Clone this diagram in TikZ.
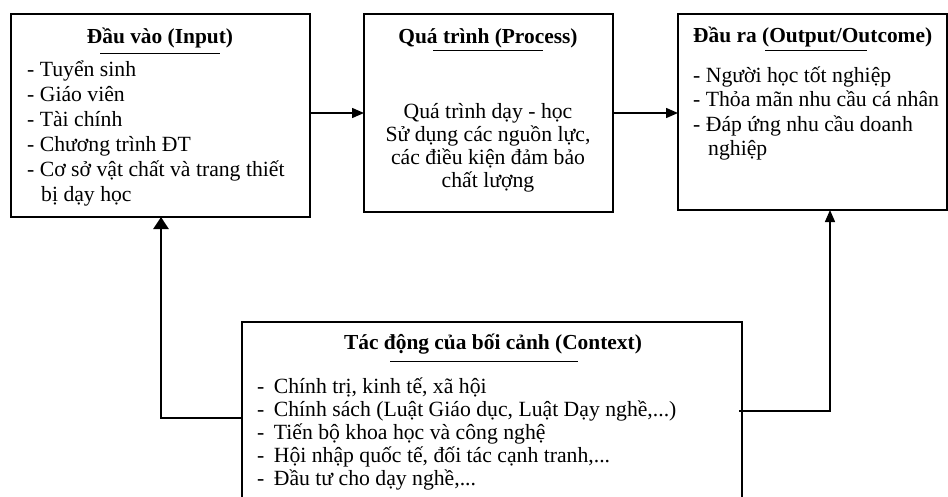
\documentclass[tikz,border=0pt]{standalone}
\usepackage{fontspec}
\setmainfont{Liberation Serif}
\usetikzlibrary{arrows.meta,calc}
\begin{document}
\begin{tikzpicture}[x=1pt,y=-1pt,
 box/.style={draw,line width=1.5pt,inner sep=0,outer sep=0,anchor=north west},
 ttl/.style={font=\fontsize{21.4}{25}\selectfont\bfseries,inner sep=0,anchor=base},
 ttlw/.style={font=\fontsize{21.4}{25}\selectfont\bfseries,inner sep=0,anchor=base west},
 itm/.style={font=\fontsize{21.7}{25}\selectfont,inner sep=0,anchor=base west},
 ctr/.style={font=\fontsize{21.7}{25}\selectfont,inner sep=0,anchor=base},
 arr/.style={line width=1.5pt,-{Triangle[length=12pt,width=10pt]}},
 thickarr/.style={line width=2.8pt,-{Triangle[length=12pt,width=15pt]}},
 uline/.style={line width=1pt}]
\useasboundingbox (0,0) rectangle (948,496);
% boxes
\node[box,line width=2pt,minimum width=299,minimum height=203] (in) at (11,14) {};
\node[box,minimum width=249,minimum height=198] (proc) at (364,14) {};
\node[box,minimum width=269,minimum height=196] (out) at (678,14) {};
\node[box,line width=1.3pt,minimum width=500,minimum height=200] (ctx) at (242,322) {};
% input
\node[ttl] (inT) at (160,43) {Đầu vào (Input)};
\draw[uline] (100,53) -- (220,53);
\node[itm] (in1) at (27,76) {- Tuyển sinh};
\node[itm] (in2) at (27,101) {- Giáo viên};
\node[itm] (in3) at (27,126) {- Tài chính};
\node[itm] (in4) at (27,151) {- Chương trình ĐT};
\node[itm] (in5) at (27,176) {- Cơ sở vật chất và trang thiết};
\node[itm] (in6) at (41,201) {bị dạy học};
% process
\node[ttl] (prT) at (488,43) {Quá trình (Process)};
\draw[uline] (433,50) -- (543,50);
\node[ctr] (pr1) at (488,118) {Quá trình dạy - học};
\node[ctr] (pr2) at (488,141) {Sử dụng các nguồn lực,};
\node[ctr] (pr3) at (488,164) {các điều kiện đảm bảo};
\node[ctr] (pr4) at (488,187) {chất lượng};
% output
\node[ttlw] (ouT) at (693,42) {Đầu ra (Output/Outcome)};
\draw[uline] (765,50) -- (867,50);
\node[itm] (ou1) at (693,82) {- Người học tốt nghiệp};
\node[itm] (ou2) at (693,106.5) {- Thỏa mãn nhu cầu cá nhân};
\node[itm] (ou3) at (693,131) {- Đáp ứng nhu cầu doanh};
\node[itm] (ou4) at (708,155.5) {nghiệp};
% context
\node[ttl] (cxT) at (493,349) {Tác động của bối cảnh (Context)};
\draw[uline] (390,361) -- (578,361);
\node[itm] (cx1) at (257,393) {-\hspace{4pt} Chính trị, kinh tế, xã hội};
\node[itm] (cx2) at (257,416) {-\hspace{4pt} Chính sách (Luật Giáo dục, Luật Dạy nghề,...)};
\node[itm] (cx3) at (257,439) {-\hspace{4pt} Tiến bộ khoa học và công nghệ};
\node[itm] (cx4) at (257,462) {-\hspace{4pt} Hội nhập quốc tế, đối tác cạnh tranh,...};
\node[itm] (cx5) at (257,485) {-\hspace{4pt} Đầu tư cho dạy nghề,...};
% connectors
\draw[arr] ([yshift=-99pt]in.north east) -- ([yshift=-99pt]proc.north west);
\draw[arr] ([yshift=-99pt]proc.north east) -- ([yshift=-99pt]out.north west);
\coordinate (lc) at (161,418);
\draw[thickarr] ([yshift=-96pt]ctx.north west) -- (lc) -- (lc |- in.south);
\coordinate (rc) at (830,411);
\draw[arr] ([xshift=-3pt,yshift=-89pt]ctx.north east) -- (rc) -- (rc |- out.south);
\end{tikzpicture}
\end{document}
